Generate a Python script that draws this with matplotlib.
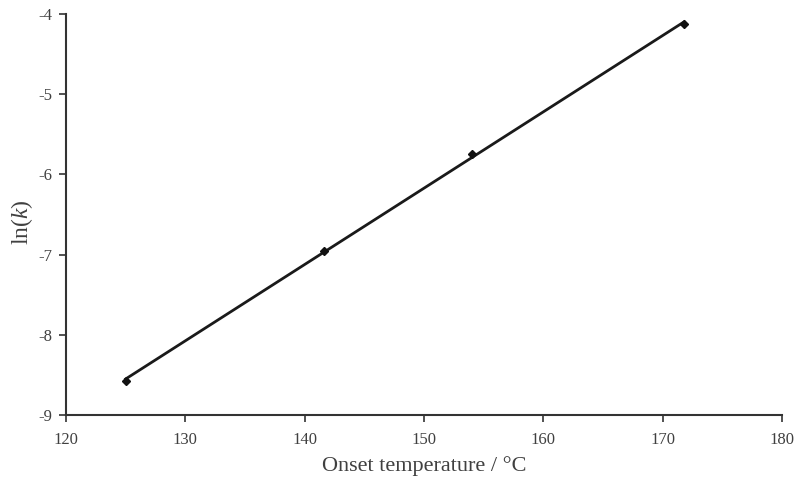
import matplotlib
matplotlib.use("Agg")
import matplotlib.pyplot as plt
import numpy as np

onset_temp = [125.0, 141.6, 154.0, 171.8]
ln_k = [-8.58, -6.95, -5.75, -4.13]
x_ticks = [120, 130, 140, 150, 160, 170, 180]
y_ticks = [-9, -8, -7, -6, -5, -4]

plt.rcParams['font.family'] = ['Liberation Serif', 'DejaVu Serif']
plt.rcParams['mathtext.fontset'] = 'custom'
plt.rcParams['mathtext.rm'] = 'Liberation Serif'
plt.rcParams['mathtext.it'] = 'Liberation Serif:italic'

txt = '#404040'
fig = plt.figure(figsize=(7.95, 4.79), dpi=100)
ax = fig.add_axes([66/795, 1-415/479, (782-66)/795, (415-14)/479])

coef = np.polyfit(onset_temp, ln_k, 1)
xf = np.array([min(onset_temp), max(onset_temp)])
ax.plot(xf, np.polyval(coef, xf), color='#1a1a1a', lw=2.0, zorder=2)
ax.plot(onset_temp, ln_k, linestyle='none', marker='D', ms=4.5, color='#111111', zorder=3)

ax.set_xlim(120, 180)
ax.set_ylim(-9, -4)
ax.set_xticks(x_ticks)
ax.set_yticks(y_ticks)
ax.set_xticklabels([str(v) for v in x_ticks])
ax.set_yticklabels([str(v) for v in y_ticks])
for s in ['top', 'right']:
    ax.spines[s].set_visible(False)
for s in ['left', 'bottom']:
    ax.spines[s].set_color('#333333')
    ax.spines[s].set_linewidth(1.5)
ax.tick_params(direction='out', length=5, width=1.2, color='#333333', labelsize=12, labelcolor=txt)
ax.tick_params(axis='x', pad=7)
ax.tick_params(axis='y', pad=5)

ax.set_xlabel('Onset temperature / °C', fontsize=16, color=txt, labelpad=6)
ax.set_ylabel(r'ln($k$)', fontsize=17, color=txt)
ax.yaxis.set_label_coords(-31/716, 0.48)

fig.savefig('out.png', dpi=100)
